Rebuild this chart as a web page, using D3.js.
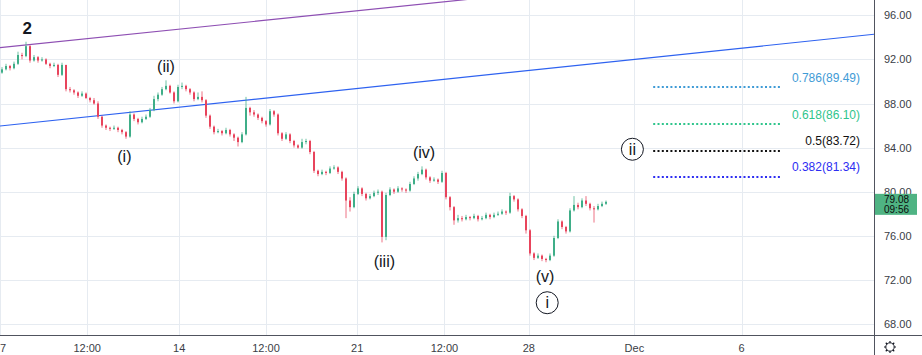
<!DOCTYPE html>
<html><head><meta charset="utf-8">
<script src="https://cdn.jsdelivr.net/npm/d3@7/dist/d3.min.js"></script>
<style>
html,body{margin:0;padding:0;background:#fff;}
svg{display:block;font-family:"Liberation Sans",Arial,sans-serif;}
</style></head>
<body><svg id="c" width="922" height="355"></svg>
<script>
// ---- data ----
const firstOpen = 90.8;
const closes = [91.1,91.4,91.2,91.6,92.4,92.3,93.2,91.9,92.2,91.9,92.0,91.6,91.4,91.5,90.6,91.5,89.3,89.2,89.0,88.7,
88.9,88.5,88.3,88.0,86.8,86.0,85.8,85.7,85.8,85.6,85.4,85.0,87.0,86.6,86.3,86.6,86.8,87.4,88.4,88.8,
89.3,89.6,89.0,88.2,89.5,89.6,89.3,89.0,88.4,88.6,88.3,86.9,85.9,85.4,85.5,85.3,85.6,85.2,84.9,84.5,
85.2,87.6,87.2,87.0,86.7,86.4,86.1,87.3,87.0,85.3,84.8,85.2,84.6,84.2,84.0,84.5,84.6,83.6,81.9,81.6,
81.8,81.7,82.1,82.2,81.8,81.2,79.2,78.6,79.8,80.3,79.8,79.4,79.6,79.9,80.0,75.9,79.7,80.2,80.0,80.3,
80.2,80.1,80.7,81.2,81.6,82.0,81.3,81.0,81.1,80.9,81.7,79.5,78.6,77.4,77.6,77.5,77.7,77.6,77.8,77.5,
77.6,77.9,77.7,77.9,78.0,78.2,78.1,79.6,79.3,78.4,77.8,76.5,74.4,74.0,74.2,73.9,73.8,74.2,75.8,77.3,
76.8,76.4,78.3,78.8,78.6,79.2,78.9,78.5,78.4,78.7,78.9,79.08];
const highs = [91.3,91.6,91.5,91.8,92.7,92.6,93.6,93.3,92.4,92.3,92.2,92.1,91.7,91.7,91.6,91.7,91.5,89.5,89.3,89.1,
89.1,89.0,88.6,88.5,88.2,86.9,86.1,85.9,86.0,85.9,85.7,85.5,87.3,87.1,86.7,86.8,87.0,87.6,88.7,89.0,
89.5,90.1,89.7,89.1,89.7,89.9,89.7,89.4,89.1,89.0,89.1,88.4,87.0,86.0,85.7,85.6,85.8,85.7,85.3,85.0,
85.4,88.6,87.7,87.4,87.1,86.8,86.5,87.5,87.4,87.1,85.4,85.4,85.3,84.7,84.3,84.8,84.8,84.7,83.7,82.0,
82.0,81.9,82.3,82.4,82.3,81.9,81.3,79.5,80.0,80.5,80.4,79.9,79.8,80.1,80.2,80.1,79.9,80.4,80.3,80.5,
80.4,80.3,80.9,81.4,81.8,82.3,82.1,81.4,81.3,81.2,81.9,81.8,79.6,78.7,77.9,77.8,77.9,77.8,78.0,77.9,
77.8,78.1,78.0,78.1,78.2,78.4,78.3,79.9,79.7,79.4,78.5,77.9,76.6,74.5,74.4,74.3,74.0,74.4,76.0,77.5,
77.4,76.9,78.5,79.6,79.0,79.4,79.6,79.0,78.7,78.9,79.1,79.2];
const lows = [90.7,91.0,91.0,91.1,91.5,92.0,92.2,91.7,91.8,91.7,91.8,91.5,91.2,91.3,90.4,90.5,89.1,89.0,88.8,88.5,
88.6,88.4,88.1,87.9,86.6,85.8,85.6,85.5,85.6,85.4,85.2,84.8,84.9,86.4,86.1,86.2,86.5,86.7,87.3,88.2,
88.7,89.2,88.9,88.0,88.1,89.3,89.1,88.8,88.2,88.3,88.1,86.7,85.7,85.2,85.3,85.1,85.2,85.0,84.6,84.1,
84.4,85.1,86.9,86.8,86.5,86.2,85.9,86.0,86.8,85.1,84.6,84.7,84.4,84.0,83.9,83.9,84.3,83.4,81.7,81.4,
81.5,81.5,81.6,82.0,81.6,81.0,77.6,78.2,78.5,79.7,79.6,79.2,79.3,79.5,79.7,75.4,75.6,79.6,79.8,79.9,
80.0,79.9,80.0,80.6,81.0,81.5,81.1,80.8,80.9,80.7,80.8,79.3,78.3,77.0,77.2,77.3,77.4,77.4,77.5,77.3,
77.4,77.5,77.5,77.6,77.8,77.9,77.9,78.0,79.1,78.2,77.6,76.2,74.2,73.8,73.9,73.7,73.6,73.7,74.1,75.7,
76.6,76.2,76.3,78.2,78.4,78.5,78.7,78.3,77.2,78.3,78.6,78.8];

const priceTicks = [68,72,76,80,84,88,92,96];
const timeTickPos = [-0.5,21.3,44.3,66,88.8,110.6,131.7,158.1,184.9];
const timeTickLabels = ["7","12:00","14","12:00","21","12:00","28","Dec","6"];

const fibLevels = ["0.786","0.618","0.5","0.382"];
const fibPrices = [89.49,86.10,83.72,81.34];
const fibColors = ["#3f9bd6","#2fc58c","#111111","#2d2df2"];
const fibStart = 162.8, fibEnd = 195, fibLabelAt = 214.5;

const purpleLine = [[-0.5,93.06],[115,97.39]];
const blueLine = [[-0.5,85.96],[218,94.28]];

const waveLabels = ["2","(ii)","(i)","(iv)","(iii)","(v)"];
const waveIdx = [6.3,41,30.6,105.5,95.6,135.75];
const wavePrice = [94.76,91.40,83.17,83.54,73.71,72.29];
const circleLabels = ["i","ii"];
const circleIdx = [136.3,157.6];
const circlePrice = [69.93,83.85];

const lastPrice = "79.08", countdown = "09:56";

// ---- layout ----
const W = 922, H = 355, plotW = 874, plotH = 335;
const svg = d3.select("#c");
const x = d3.scaleLinear().domain([-0.5, 218]).range([0, plotW]);
const y = d3.scaleLinear().domain([68, 96]).range([324, 15.3]);

svg.append("defs").append("clipPath").attr("id","clip")
  .append("rect").attr("x",0).attr("y",0).attr("width",plotW).attr("height",plotH);

const plot = svg.append("g").attr("clip-path","url(#clip)");

// grid
plot.append("g").selectAll("line").data(priceTicks).join("line")
  .attr("x1",0).attr("x2",plotW).attr("y1",d=>Math.round(y(d))+0.5).attr("y2",d=>Math.round(y(d))+0.5)
  .attr("stroke","#e6ebf1").attr("stroke-width",1);
plot.append("g").selectAll("line").data(timeTickPos).join("line")
  .attr("y1",0).attr("y2",plotH).attr("x1",d=>Math.round(x(d))+0.5).attr("x2",d=>Math.round(x(d))+0.5)
  .attr("stroke","#e6ebf1").attr("stroke-width",1);

// trend lines (extended)
function extLine(pts, color){
  const [p0,p1] = pts;
  const slope = (p1[1]-p0[1])/(p1[0]-p0[0]);
  const xa = -0.5, xb = 218;
  plot.append("line")
    .attr("x1",x(xa)).attr("y1",y(p0[1]+slope*(xa-p0[0])))
    .attr("x2",x(xb)).attr("y2",y(p0[1]+slope*(xb-p0[0])))
    .attr("stroke",color).attr("stroke-width",1.2);
}
extLine(purpleLine,"#8e4fb3");
extLine(blueLine,"#2e62f0");

// candles
const candles = closes.map((c,i)=>({i, o: i===0?firstOpen:closes[i-1], c, h: highs[i], l: lows[i]}));
const up = "#3fae88", down = "#e8445c";
const cg = plot.append("g");
cg.selectAll("line").data(candles).join("line")
  .attr("x1",d=>x(d.i)).attr("x2",d=>x(d.i))
  .attr("y1",d=>y(d.h)).attr("y2",d=>y(d.l))
  .attr("stroke",d=>d.c>=d.o?up:down).attr("stroke-width",1).attr("opacity",0.75);
cg.selectAll("rect").data(candles).join("rect")
  .attr("x",d=>x(d.i)-1).attr("width",2)
  .attr("y",d=>y(Math.max(d.o,d.c)))
  .attr("height",d=>Math.max(1, Math.abs(y(d.o)-y(d.c))))
  .attr("fill",d=>d.c>=d.o?up:down);

// fib levels
const fib = fibLevels.map((lv,k)=>({lv, p:fibPrices[k], col:fibColors[k]}));
plot.append("g").selectAll("line").data(fib).join("line")
  .attr("x1",x(fibStart)).attr("x2",x(fibEnd))
  .attr("y1",d=>Math.round(y(d.p))).attr("y2",d=>Math.round(y(d.p)))
  .attr("stroke",d=>d.col).attr("stroke-width",2).attr("stroke-dasharray","2,2.3");
plot.append("g").selectAll("text").data(fib).join("text")
  .attr("x",x(fibLabelAt)).attr("y",d=>y(d.p)-9.5)
  .attr("text-anchor","end").attr("dominant-baseline","central")
  .attr("font-size",12).attr("fill",d=>d.col)
  .text(d=>`${d.lv}(${d.p.toFixed(2)})`);

// wave labels
plot.append("g").selectAll("text").data(waveLabels).join("text")
  .attr("x",(d,k)=>x(waveIdx[k])).attr("y",(d,k)=>y(wavePrice[k]))
  .attr("text-anchor","middle").attr("dominant-baseline","central")
  .attr("font-size",(d,k)=>k===0?17:16).attr("fill","#131722")
  .attr("font-weight",(d,k)=>k===0?"bold":"normal")
  .text(d=>d);
const circ = plot.append("g").selectAll("g").data(circleLabels).join("g")
  .attr("transform",(d,k)=>`translate(${x(circleIdx[k])},${y(circlePrice[k])})`);
circ.append("circle").attr("r",11).attr("fill","#fff").attr("stroke","#131722").attr("stroke-width",1);
circ.append("text").attr("text-anchor","middle").attr("dominant-baseline","central")
  .attr("font-size",16).attr("fill","#131722").text(d=>d);

// axes frame
svg.append("line").attr("x1",0).attr("x2",W).attr("y1",plotH+0.5).attr("y2",plotH+0.5).attr("stroke","#50535e");
svg.append("line").attr("x1",plotW+0.5).attr("x2",plotW+0.5).attr("y1",0).attr("y2",H).attr("stroke","#50535e");

// right axis labels
svg.append("g").selectAll("text").data(priceTicks).join("text")
  .attr("x",884).attr("y",d=>y(d)).attr("dominant-baseline","central")
  .attr("font-size",11).attr("fill","#3a3d46").text(d=>d.toFixed(2));

// bottom axis labels
const bx = svg.append("g");
bx.selectAll("text").data(timeTickPos).join("text")
  .attr("x",(d,k)=>k===0?0:x(d)).attr("y",348)
  .attr("text-anchor",(d,k)=>k===0?"start":"middle").attr("dominant-baseline","central")
  .attr("font-size",11).attr("fill","#3a3d46").text((d,k)=>timeTickLabels[k]);

// last price label
const lp = +lastPrice;
const ly = y(lp);
svg.append("rect").attr("x",plotW+1).attr("y",ly-8).attr("width",42).attr("height",21).attr("fill","#4fb383");
svg.append("text").attr("x",884).attr("y",ly-2).attr("dominant-baseline","central")
  .attr("font-size",10).attr("fill","#0c0c0c").text(lastPrice);
svg.append("text").attr("x",884).attr("y",ly+8).attr("dominant-baseline","central")
  .attr("font-size",10).attr("fill","#0c0c0c").text(countdown);

// gear icon
const gear = svg.append("g").attr("transform","translate(890,347)");
gear.append("circle").attr("r",4.2).attr("fill","none").attr("stroke","#131722").attr("stroke-width",1);
gear.selectAll("line").data(d3.range(8)).join("line")
  .attr("x1",d=>4.2*Math.cos(d*Math.PI/4)).attr("y1",d=>4.2*Math.sin(d*Math.PI/4))
  .attr("x2",d=>6*Math.cos(d*Math.PI/4)).attr("y2",d=>6*Math.sin(d*Math.PI/4))
  .attr("stroke","#131722").attr("stroke-width",1.2);
</script></body></html>
